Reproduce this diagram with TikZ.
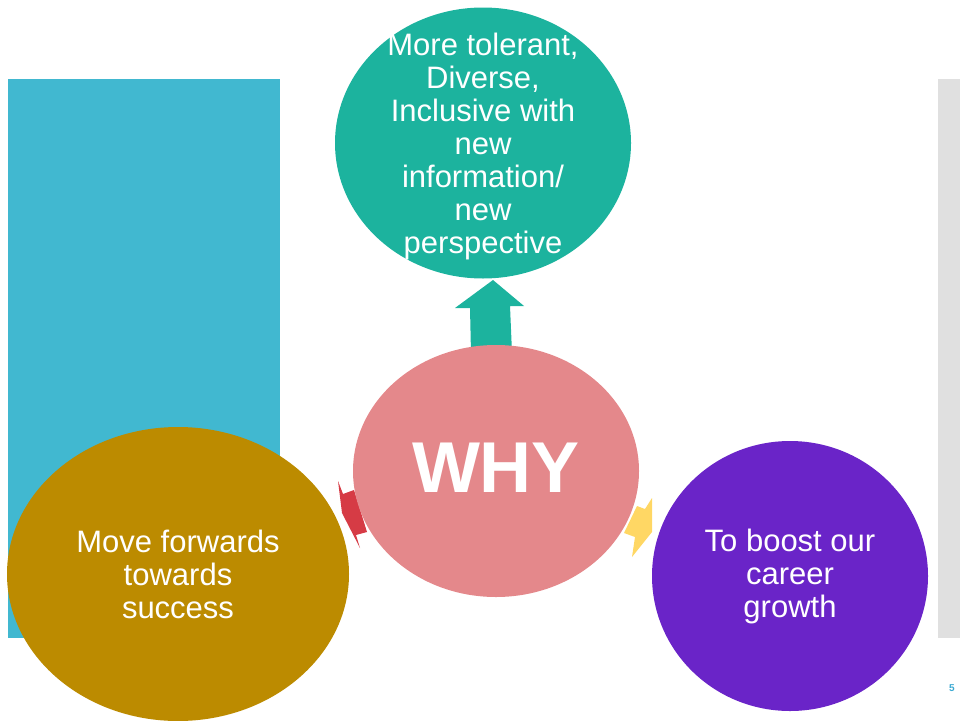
\documentclass[tikz,border=0pt]{standalone}
\usepackage{fontspec}
\setmainfont{Liberation Sans}
\usetikzlibrary{shapes.geometric}
\definecolor{cyanbar}{RGB}{65,184,208}
\definecolor{greybar}{RGB}{224,224,224}
\definecolor{tealc}{RGB}{28,179,158}
\definecolor{pinkc}{RGB}{228,136,139}
\definecolor{goldc}{RGB}{188,139,0}
\definecolor{purplec}{RGB}{106,36,200}
\definecolor{redc}{RGB}{214,59,69}
\definecolor{yellowc}{RGB}{255,215,100}
\definecolor{pagec}{RGB}{60,170,210}
\begin{document}
\begin{tikzpicture}[x=1pt,y=-1pt,
  blob/.style={ellipse,inner sep=0pt,draw=none},
  lbl/.style={text=white,align=center,font=\fontsize{31}{33}\selectfont}]
\useasboundingbox (0,0) rectangle (960,720);
\fill[cyanbar] (8,79) rectangle (280,638);
\fill[greybar] (938,79) rectangle (960,638);
% top ellipse
\node[blob,fill=tealc,minimum width=296pt,minimum height=271pt] (top) at (483,143) {};
\node[lbl] (toptext) at (483,146) {More tolerant,\\Diverse,\\Inclusive with\\new\\information/\\new\\perspective};
% up arrow
\fill[tealc] (493,280) -- (524,306) -- (510,306) -- (512,353) -- (471,354) -- (470,308) -- (455,308) -- cycle;
% gold ellipse
\node[blob,fill=goldc,minimum width=342pt,minimum height=294pt] (left) at (178,574) {};
\node[lbl] (lefttext) at (178,574) {Move forwards\\towards\\success};
% red arrow
\fill[redc] (338,481) -- (343,494) -- (354,490) -- (367,532) -- (356,535) -- (360,548) -- (342,513) -- cycle;
% pink ellipse
\node[blob,fill=pinkc,minimum width=286pt,minimum height=252pt] (why) at (496,471) {};
\node[text=white,font=\bfseries\fontsize{72}{72}\selectfont] (whytext) at (496,468) {WHY};
% yellow arrow
\fill[yellowc] (652,498) -- (652,532) -- (632,557) -- (635,537) -- (624,533) -- (637,506) -- (645,509) -- cycle;
% purple ellipse
\node[blob,fill=purplec,minimum width=276pt,minimum height=270pt] (right) at (790,576) {};
\node[lbl] (righttext) at (790,576) {To boost our\\career\\growth};
% page number
\node[text=pagec,font=\bfseries\fontsize{10}{10}\selectfont] (page) at (952,688) {5};
\end{tikzpicture}
\end{document}
